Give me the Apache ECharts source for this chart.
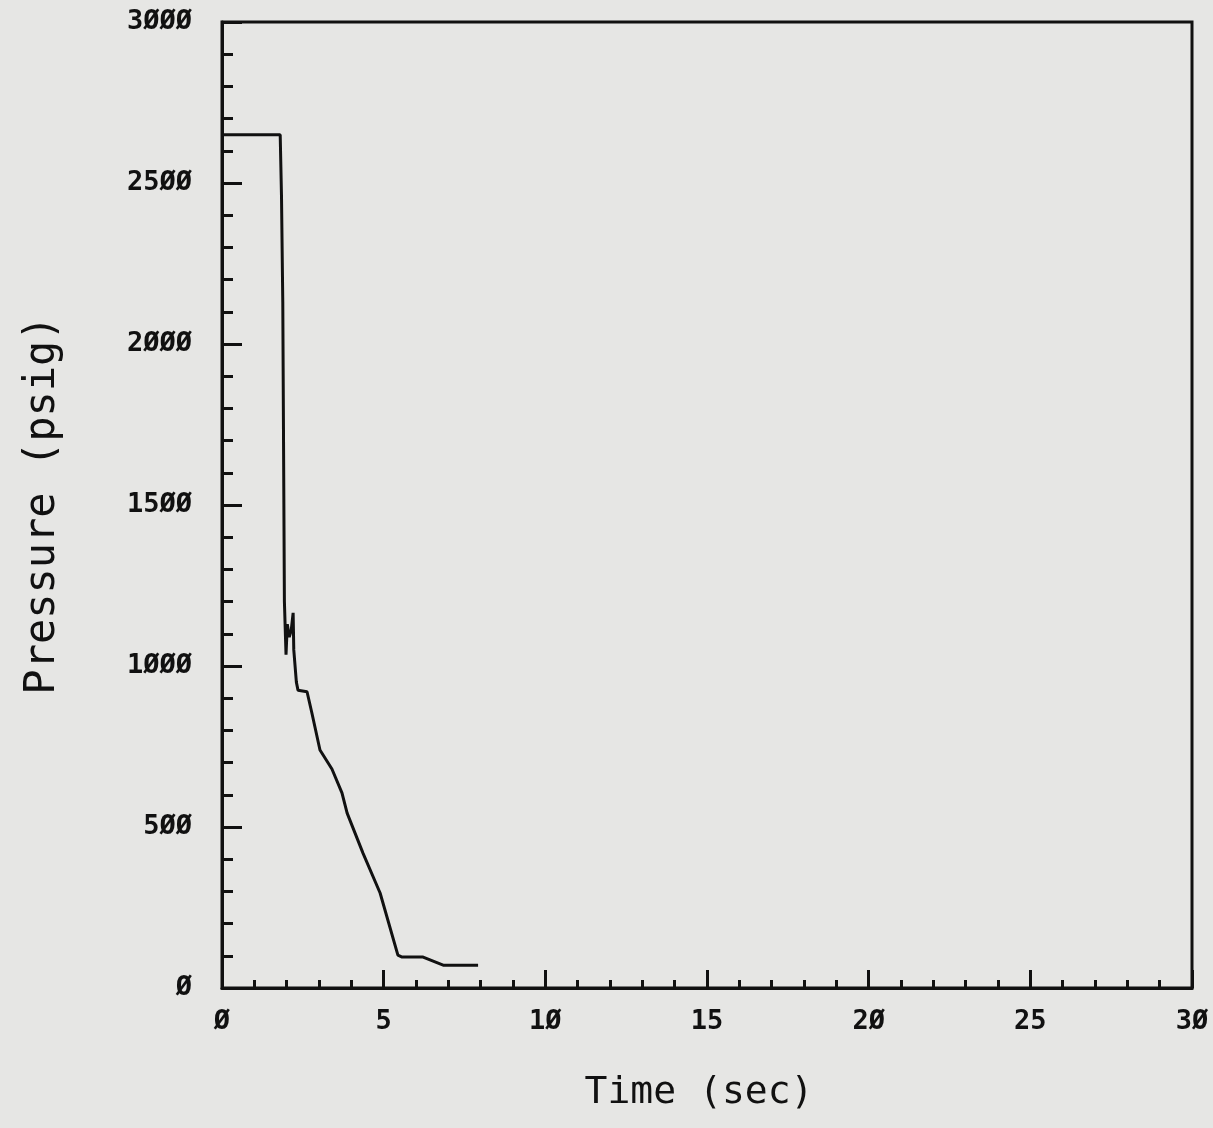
<!DOCTYPE html>
<html>
<head>
<meta charset="utf-8">
<title>Pressure vs Time</title>
<script src="https://cdn.jsdelivr.net/npm/echarts@6/dist/echarts.min.js"></script>
<style>
  html, body { margin: 0; padding: 0; background: #e6e6e4; }
  #chart { width: 1213px; height: 1128px; }
</style>
</head>
<body>
<div id="chart"></div>
<script>
// Time (sec) samples of the pressure history
var timeSec = [0, 1.80, 1.84, 1.88, 1.93, 1.96, 1.98, 2.02, 2.08, 2.14, 2.20, 2.22, 2.30, 2.35,
  2.63, 2.78, 3.03, 3.40, 3.71, 3.87, 4.36, 4.89, 5.44, 5.57, 6.22, 6.84, 7.92];
// Pressure (psig) at each time sample
var pressurePsig = [2650, 2650, 2460, 2130, 1200, 1100, 1035, 1130, 1090, 1110, 1165, 1050, 950, 925,
  920, 854, 739, 680, 606, 543, 419, 295, 102, 96, 96, 71, 71];

var xTicks = [0, 5, 10, 15, 20, 25, 30];
var yTicks = [0, 500, 1000, 1500, 2000, 2500, 3000];

var series = timeSec.map(function (t, i) { return [t, pressurePsig[i]]; });

// Tick labels are printed with slashed zeros
function plotterDigits(v) { return String(v).replace(/0/g, '\u00d8'); }

var ink = '#111';
var chart = echarts.init(document.getElementById('chart'));
chart.setOption({
  backgroundColor: '#e6e6e4',
  animation: false,
  grid: {
    left: 222, right: 21, top: 22, bottom: 140,
    show: true, borderColor: ink, borderWidth: 3, backgroundColor: 'transparent'
  },
  xAxis: {
    type: 'value',
    min: xTicks[0], max: xTicks[xTicks.length - 1], interval: 5,
    name: 'Time (sec)', nameLocation: 'middle', nameGap: 86,
    nameTextStyle: { fontFamily: 'DejaVu Sans Mono', fontSize: 38, color: ink, padding: [0, 16, 0, 0] },
    axisLine: { lineStyle: { color: ink, width: 3 } },
    axisTick: { inside: true, length: 18, lineStyle: { color: ink, width: 3 } },
    minorTick: { show: true, splitNumber: 5, length: 8, lineStyle: { color: ink, width: 3 } },
    splitLine: { show: false },
    axisLabel: {
      margin: 20, fontFamily: 'DejaVu Sans Mono', fontWeight: 'bold', fontSize: 27, color: ink,
      formatter: plotterDigits
    }
  },
  yAxis: {
    type: 'value',
    min: yTicks[0], max: yTicks[yTicks.length - 1], interval: 500,
    name: 'Pressure (psig)', nameLocation: 'middle', nameGap: 158,
    nameTextStyle: { fontFamily: 'DejaVu Sans Mono', fontSize: 42, color: ink },
    axisLine: { lineStyle: { color: ink, width: 3 } },
    axisTick: { inside: true, length: 20, lineStyle: { color: ink, width: 3 } },
    minorTick: { show: true, splitNumber: 5, length: 11, lineStyle: { color: ink, width: 3 } },
    splitLine: { show: false },
    axisLabel: {
      margin: 30, fontFamily: 'DejaVu Sans Mono', fontWeight: 'bold', fontSize: 27, color: ink,
      formatter: plotterDigits
    }
  },
  series: [{
    type: 'line',
    data: series,
    showSymbol: false,
    lineStyle: { color: ink, width: 3 },
    z: 3
  }]
});
</script>
</body>
</html>
